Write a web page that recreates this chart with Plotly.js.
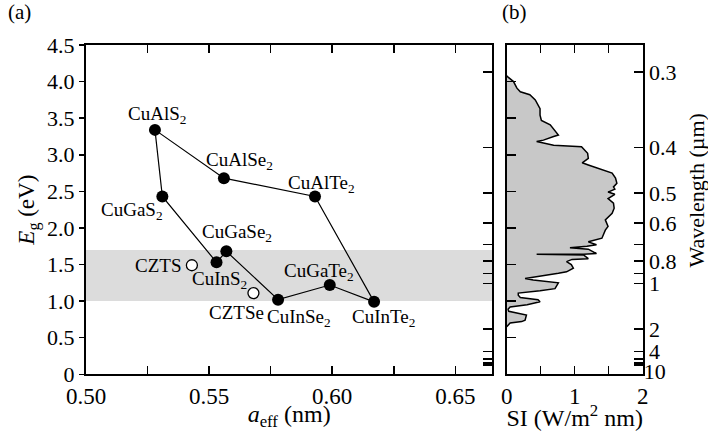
<!DOCTYPE html>
<html>
<head>
<meta charset="utf-8">
<script src="https://cdn.plot.ly/plotly-3.0.1.min.js"></script>
<style>html,body{margin:0;padding:0;background:#fff;}#chart{width:708px;height:431px;}</style>
</head>
<body>
<div id="chart"></div>
<script>
// ---- Panel (a): chalcopyrite compounds ----
const compounds = ["CuAlS2","CuAlSe2","CuAlTe2","CuGaS2","CuGaSe2","CuGaTe2","CuInS2","CuInSe2","CuInTe2"];
const compoundLabels = ["CuAlS<sub>2</sub>","CuAlSe<sub>2</sub>","CuAlTe<sub>2</sub>","CuGaS<sub>2</sub>","CuGaSe<sub>2</sub>","CuGaTe<sub>2</sub>","CuInS<sub>2</sub>","CuInSe<sub>2</sub>","CuInTe<sub>2</sub>"];
const aeff = [0.528, 0.556, 0.593, 0.531, 0.557, 0.599, 0.553, 0.578, 0.617];
const eg   = [3.34, 2.68, 2.43, 2.43, 1.68, 1.22, 1.53, 1.02, 0.99];
// order in which the connecting line runs through the compounds
const pathOrder = ["CuAlS2","CuAlSe2","CuAlTe2","CuInTe2","CuGaTe2","CuInSe2","CuGaSe2","CuInS2","CuGaS2","CuAlS2"];

// kesterites (open circles)
const kesterites = ["CZTS","CZTSe"];
const kesAeff = [0.543, 0.568];
const kesEg = [1.49, 1.11];

// optimum band-gap band (eV)
const bandRange = [1.0, 1.7];

// axis ticks panel (a)
const xTickVals = [0.50, 0.55, 0.60, 0.65];
const xTickText = ["0.50", "0.55", "0.60", "0.65"];
const yTickVals = [0, 0.5, 1.0, 1.5, 2.0, 2.5, 3.0, 3.5, 4.0, 4.5];
const yTickText = ["0", "0.5", "1.0", "1.5", "2.0", "2.5", "3.0", "3.5", "4.0", "4.5"];

// ---- Panel (b): solar spectrum (photon energy in eV vs spectral irradiance) ----
const specEnergy = [4.08, 4.06, 4.00, 3.91, 3.86, 3.82, 3.75, 3.63, 3.54, 3.47, 3.41, 3.33, 3.27, 3.25, 3.20, 3.18, 3.13, 3.11, 3.02, 2.95, 2.89, 2.86, 2.75, 2.68, 2.61, 2.56, 2.53, 2.49, 2.46, 2.40, 2.34, 2.27, 2.20, 2.11, 2.06, 2.02, 1.97, 1.86, 1.81, 1.77, 1.75, 1.73, 1.71, 1.65, 1.64, 1.64, 1.64, 1.63, 1.58, 1.57, 1.54, 1.50, 1.45, 1.40, 1.38, 1.33, 1.31, 1.29, 1.25, 1.17, 1.14, 1.11, 1.08, 1.05, 1.02, 0.99, 0.95, 0.92, 0.89, 0.86, 0.84, 0.81, 0.74, 0.72, 0.70, 0.67, 0.65];
const specSI     = [0.00, 0.02, 0.10, 0.15, 0.20, 0.34, 0.42, 0.49, 0.49, 0.51, 0.64, 0.71, 0.76, 0.69, 0.54, 0.44, 0.69, 1.10, 1.19, 1.20, 1.11, 1.20, 1.55, 1.60, 1.62, 1.57, 1.59, 1.49, 1.59, 1.49, 1.57, 1.58, 1.55, 1.45, 1.47, 1.49, 1.45, 1.40, 1.20, 1.32, 1.18, 0.93, 1.20, 1.32, 1.13, 0.44, 1.13, 1.13, 1.20, 0.96, 0.88, 0.95, 0.98, 0.88, 0.76, 0.40, 0.27, 0.39, 0.76, 0.71, 0.49, 0.17, 0.17, 0.20, 0.46, 0.49, 0.30, 0.05, 0.02, 0.03, 0.15, 0.29, 0.27, 0.22, 0.05, 0.02, 0.00];

const siTickVals = [0, 1, 2];
const siTickText = ["0", "1", "2"];

// wavelength axis (µm)
const wlTicks = [0.3, 0.4, 0.5, 0.6, 0.7, 0.8, 0.9, 1, 2, 4, 6, 8, 10];
const wlTickText = ["0.3", "0.4", "0.5", "0.6", "", "0.8", "", "1", "2", "4", "", "", ""];
const wlShifted = [10];
const wlShiftedText = ["10"];
const hc = 1.2398; // eV·µm
const toEnergy = wl => hc / wl;

// ---------------- build ----------------
const FONT = 'Liberation Serif';
const idx = name => compounds.indexOf(name);

const traces = [
  { type: 'scatter', mode: 'lines', x: pathOrder.map(n => aeff[idx(n)]), y: pathOrder.map(n => eg[idx(n)]),
    line: { color: 'black', width: 1.2 }, xaxis: 'x', yaxis: 'y', hoverinfo: 'skip', showlegend: false },
  { type: 'scatter', mode: 'markers', x: aeff, y: eg, text: compounds,
    marker: { color: 'black', size: 12 }, xaxis: 'x', yaxis: 'y', showlegend: false },
  { type: 'scatter', mode: 'markers', x: kesAeff, y: kesEg, text: kesterites,
    marker: { color: 'white', size: 11, line: { color: 'black', width: 1.3 } }, xaxis: 'x', yaxis: 'y', showlegend: false },
  { type: 'scatter', mode: 'lines', x: specSI, y: specEnergy, fill: 'tozerox', fillcolor: '#c8c8c8',
    line: { color: 'black', width: 1.5 }, xaxis: 'x2', yaxis: 'y2', showlegend: false },
  { type: 'scatter', mode: 'markers', x: [], y: [], xaxis: 'x', yaxis: 'y3', showlegend: false },
  { type: 'scatter', mode: 'markers', x: [], y: [], xaxis: 'x2', yaxis: 'y4', showlegend: false },
  { type: 'scatter', mode: 'markers', x: [], y: [], xaxis: 'x2', yaxis: 'y5', showlegend: false }
];

// label offsets (px) relative to each marker: [xshift, yshift, xanchor]
const labelOffsets = {
  CuAlS2: [2, 15, 'center'], CuAlSe2: [16, 17, 'center'], CuAlTe2: [6, 12, 'center'],
  CuGaS2: [-30, -15, 'center'], CuGaSe2: [11, 18, 'center'], CuGaTe2: [-11, 13, 'center'],
  CuInS2: [3, -18, 'center'], CuInSe2: [21, -18, 'center'], CuInTe2: [9, -16, 'center'],
  CZTS: [-9, 0, 'right'], CZTSe: [-17, -19, 'center']
};

const annotations = [];
compounds.forEach((n, i) => {
  const o = labelOffsets[n];
  annotations.push({ xref: 'x', yref: 'y', x: aeff[i], y: eg[i], text: compoundLabels[i], showarrow: false,
    xshift: o[0], yshift: o[1], xanchor: o[2], yanchor: 'middle', font: { family: FONT, size: 19, color: 'black' } });
});
kesterites.forEach((n, i) => {
  const o = labelOffsets[n];
  annotations.push({ xref: 'x', yref: 'y', x: kesAeff[i], y: kesEg[i], text: n, showarrow: false,
    xshift: o[0], yshift: o[1], xanchor: o[2], yanchor: 'middle', font: { family: FONT, size: 19, color: 'black' } });
});
annotations.push({ xref: 'paper', yref: 'paper', x: 0.028, y: 0.972, text: '(a)', showarrow: false,
  xanchor: 'center', yanchor: 'middle', font: { family: FONT, size: 21, color: 'black' } });
annotations.push({ xref: 'paper', yref: 'paper', x: 0.726, y: 0.972, text: '(b)', showarrow: false,
  xanchor: 'center', yanchor: 'middle', font: { family: FONT, size: 21, color: 'black' } });
// right-hand axis title of panel (b)
annotations.push({ xref: 'paper', yref: 'paper', x: 0.984, y: 0.557, text: 'Wavelength (µm)', showarrow: false,
  textangle: -90, xanchor: 'center', yanchor: 'middle', font: { family: FONT, size: 22, color: 'black' } });

const axBase = { showgrid: false, zeroline: false, showline: true, linecolor: 'black', linewidth: 2,
  tickcolor: 'black', tickwidth: 1.5, tickfont: { family: FONT, size: 23, color: 'black' } };
const yDomain = [0.1316, 0.8956];
const rightFont = { family: FONT, size: 22, color: 'black' };

const layout = {
  width: 708, height: 431,
  margin: { l: 0, r: 0, t: 0, b: 0 },
  paper_bgcolor: 'white', plot_bgcolor: 'rgba(0,0,0,0)',
  font: { family: FONT, color: 'black' },
  showlegend: false,
  xaxis: Object.assign({}, axBase, {
    domain: [0.1215, 0.6953], range: [0.5, 0.665], anchor: 'y',
    tickmode: 'array', tickvals: xTickVals, ticktext: xTickText,
    ticks: 'inside', ticklen: 8, mirror: 'ticks',
    minor: { tickmode: 'linear', tick0: 0.5, dtick: 0.025, ticks: 'inside', ticklen: 8, tickwidth: 1.5, tickcolor: 'black', showgrid: false },
    title: { text: '<i>a</i><sub>eff</sub> (nm)', font: { family: FONT, size: 24, color: 'black' }, standoff: 4 }
  }),
  yaxis: Object.assign({}, axBase, {
    domain: yDomain, range: [0, 4.5], anchor: 'x',
    tickmode: 'array', tickvals: yTickVals, ticktext: yTickText,
    ticks: 'outside', ticklen: 5, mirror: false,
    tickfont: { family: FONT, size: 22, color: 'black' },
    title: { text: '<i>E</i><sub>g</sub> (eV)', font: { family: FONT, size: 23, color: 'black' }, standoff: 6 }
  }),
  yaxis3: Object.assign({}, axBase, {
    overlaying: 'y', side: 'right', anchor: 'x', range: [0, 4.5],
    tickmode: 'array', tickvals: wlTicks.map(toEnergy), ticktext: wlTicks.map(() => ''),
    ticks: 'inside', ticklen: 9, showticklabels: false
  }),
  xaxis2: Object.assign({}, axBase, {
    domain: [0.7157, 0.9078], range: [0, 2], anchor: 'y2',
    tickmode: 'array', tickvals: siTickVals, ticktext: siTickText,
    ticks: 'inside', ticklen: 8, mirror: 'ticks',
    minor: { tickmode: 'linear', tick0: 0, dtick: 0.5, ticks: 'inside', ticklen: 8, tickwidth: 1.5, tickcolor: 'black', showgrid: false },
    title: { text: 'SI (W/m<sup>2</sup> nm)', font: { family: FONT, size: 24, color: 'black' }, standoff: 4 }
  }),
  yaxis2: Object.assign({}, axBase, {
    domain: yDomain, range: [0, 4.5], anchor: 'x2',
    tickmode: 'linear', tick0: 0, dtick: 0.5,
    ticks: 'inside', ticklen: 9, showticklabels: false
  }),
  yaxis4: Object.assign({}, axBase, {
    overlaying: 'y2', side: 'right', anchor: 'x2', range: [0, 4.5],
    tickmode: 'array', tickvals: wlTicks.map(toEnergy), ticktext: wlTickText,
    ticks: 'inside', ticklen: 9, tickfont: rightFont
  }),
  yaxis5: Object.assign({}, axBase, {
    overlaying: 'y2', side: 'right', anchor: 'x2', range: [0, 4.5], showline: false,
    tickmode: 'array', tickvals: wlShifted.map(toEnergy), ticktext: wlShiftedText,
    ticks: '', ticklabelshift: 6, tickfont: rightFont
  }),
  shapes: [{ type: 'rect', xref: 'x domain', yref: 'y', x0: 0, x1: 1, y0: bandRange[0], y1: bandRange[1],
    fillcolor: '#dcdcdc', line: { width: 0 }, layer: 'below' }],
  annotations: annotations
};

Plotly.newPlot('chart', traces, layout, { staticPlot: true, displayModeBar: false });
</script>
</body>
</html>
